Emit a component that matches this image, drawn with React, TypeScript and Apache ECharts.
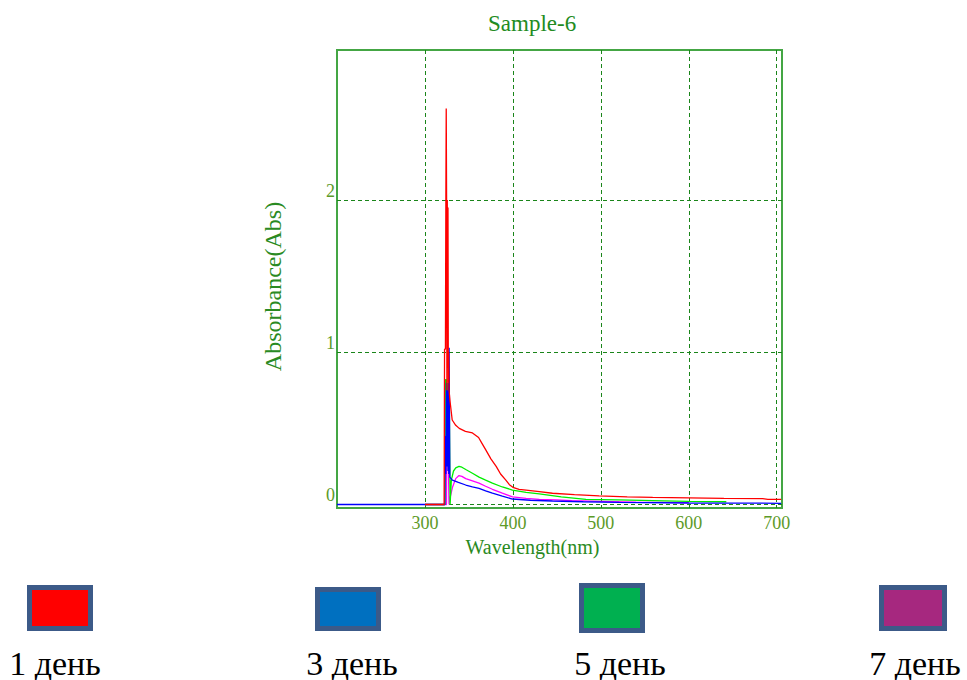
import React, { useEffect, useRef } from "react";
import * as echarts from "echarts";

const titleText = "Sample-6";
const xName = "Wavelength(nm)";
const yName = "Absorbance(Abs)";
const xTicks = [300, 400, 500, 600, 700];
const yTicks = [0, 1, 2];

const seriesNames = ["1 день", "3 день", "5 день", "7 день"];
const lineColors = ["#ff0000", "#0000ff", "#00ee00", "#ff00ff"];
const legendColors = ["#ff0000", "#0070c0", "#00b050", "#a6287f"];

// 1 день (red)
const redWl = [300, 321.8, 322.3, 323.3, 323.8, 324.2, 324.6, 325.0, 325.4, 325.8, 326.2, 326.6, 327.0, 327.4, 328.5, 331, 335, 339, 346, 354, 361, 365, 369, 375, 381, 386, 392, 396, 400, 407, 415, 430, 445, 470, 498, 530, 559, 600, 640, 684, 690, 705];
const redAbs = [0, 0, 1.02, 1.02, 2.03, 2.6, 2.03, 0.75, 2.0, 0.9, 1.95, 0.8, 1.0, 0.75, 0.68, 0.555, 0.52, 0.5, 0.48, 0.47, 0.44, 0.4, 0.36, 0.3, 0.25, 0.2, 0.16, 0.13, 0.113, 0.1, 0.095, 0.085, 0.074, 0.065, 0.056, 0.05, 0.047, 0.044, 0.04, 0.038, 0.034, 0.034];

// 3 день (blue)
const blueWl = [200, 322.6, 323.2, 323.8, 324.4, 325.0, 325.6, 326.2, 326.7, 327.1, 327.5, 327.9, 328.3, 331.2, 338, 346.4, 354, 361.5, 369, 376.7, 388, 399.5, 420, 445, 480, 521, 600, 705];
const blueAbs = [0, 0, 0.45, 0.2, 0.8, 0.25, 0.75, 0.22, 0.8, 0.2, 1.03, 1.03, 0.18, 0.16, 0.145, 0.128, 0.116, 0.106, 0.09, 0.074, 0.055, 0.036, 0.028, 0.023, 0.018, 0.014, 0.01, 0.008];

// 5 день (green)
const greenWl = [300, 322.8, 323.2, 324.5, 325.3, 326.0, 326.8, 327.6, 328.2, 328.6, 330, 332.5, 335, 338.7, 342, 346.4, 354, 361.5, 369, 376.7, 388, 399.5, 415, 430, 455, 483, 520, 559, 600, 642.7];
const greenAbs = [0, 0, 0.82, 0.82, 0.55, 0.8, 0.5, 0.78, 0.3, 0, 0.16, 0.22, 0.24, 0.25, 0.245, 0.23, 0.205, 0.18, 0.16, 0.14, 0.115, 0.095, 0.08, 0.07, 0.05, 0.034, 0.03, 0.025, 0.02, 0.018];

// 7 день (magenta)
const magWl = [300, 324.5, 325, 325.6, 326.2, 326.8, 327.4, 328.8, 331.5, 335, 338.7, 342, 346.4, 354, 361.5, 369, 376.7, 388, 399.5, 415, 430, 450, 467, 500, 540, 600];
const magAbs = [0, 0, 0.7, 0.3, 0.75, 0.2, 0, 0.05, 0.117, 0.17, 0.19, 0.185, 0.17, 0.155, 0.14, 0.12, 0.1, 0.075, 0.05, 0.04, 0.034, 0.03, 0.025, 0.02, 0.015, 0.012];

const pairs = (xs: number[], ys: number[]) => xs.map((x, i) => [x, ys[i]]);

const seriesData = [pairs(redWl, redAbs), pairs(blueWl, blueAbs), pairs(greenWl, greenAbs), pairs(magWl, magAbs)];
// draw order: magenta, green, blue, red (red on top)
const drawOrder = [3, 2, 1, 0];

const legendBoxes = [
  [29.5, 587.5, 61, 41],
  [317.5, 589.5, 61, 39],
  [581.5, 585.5, 61, 45],
  [881.5, 587.5, 63, 41],
];
const legendTextX = [55, 352, 620, 915];

const serif = "'Liberation Serif', 'DejaVu Serif', serif";
const tickColor = "#5d9a28";
const nameColor = "#2a8a22";
const gridColor = "#1a851a";

export default function App() {
  const ref = useRef<HTMLDivElement>(null);
  useEffect(() => {
    if (!ref.current) return;
    const chart = echarts.init(ref.current, undefined, { renderer: "svg" });
    const graphics: any[] = [];
    seriesNames.forEach((n, i) => {
      const b = legendBoxes[i];
      graphics.push({
        type: "rect",
        shape: { x: b[0], y: b[1], width: b[2], height: b[3] },
        style: { fill: legendColors[i], stroke: "#3c5a88", lineWidth: 5 },
      });
      graphics.push({
        type: "text",
        x: legendTextX[i],
        y: 663,
        style: { text: n, font: `34px ${serif}`, fill: "#000", align: "center", verticalAlign: "middle" },
      });
    });
    chart.setOption({
      animation: false,
      title: {
        text: titleText,
        left: 488,
        top: 12,
        padding: 0,
        textStyle: { fontFamily: serif, fontSize: 23, fontWeight: "normal", color: "#228b22" },
      },
      grid: {
        left: 337,
        top: 50,
        width: 445,
        height: 458,
        show: true,
        borderColor: "#44a644",
        borderWidth: 2,
        backgroundColor: "transparent",
      },
      xAxis: {
        type: "value",
        min: 200,
        max: 706,
        name: xName,
        nameLocation: "middle",
        nameGap: 25,
        nameTextStyle: { fontFamily: serif, fontSize: 20, color: nameColor, padding: [0, 54, 0, 0] },
        axisLine: { show: false },
        axisTick: { show: false, customValues: xTicks },
        axisLabel: { customValues: xTicks, fontFamily: serif, fontSize: 18, color: tickColor, margin: 6 },
        splitLine: { show: true, lineStyle: { color: gridColor, type: [4, 3], width: 1 } },
      },
      yAxis: {
        type: "value",
        min: -0.023,
        max: 2.985,
        name: yName,
        nameLocation: "middle",
        nameGap: 52,
        nameTextStyle: { fontFamily: serif, fontSize: 24, color: nameColor, padding: [0, 15, 0, 0] },
        axisLine: { show: false },
        axisTick: { show: false, customValues: yTicks },
        axisLabel: { customValues: yTicks, fontFamily: serif, fontSize: 18, color: tickColor, margin: 2, verticalAlign: "bottom" },
        splitLine: { show: true, lineStyle: { color: gridColor, type: [4, 3], width: 1 } },
      },
      series: drawOrder.map((i) => ({
        name: seriesNames[i],
        type: "line",
        data: seriesData[i],
        showSymbol: false,
        symbol: "none",
        lineStyle: { color: lineColors[i], width: 1.3 },
        itemStyle: { color: lineColors[i] },
        clip: true,
      })),
      graphic: graphics,
    });
    return () => chart.dispose();
  }, []);
  return <div ref={ref} style={{ position: "fixed", left: 0, top: 0, width: 967, height: 680, background: "#fff" }} />;
}
